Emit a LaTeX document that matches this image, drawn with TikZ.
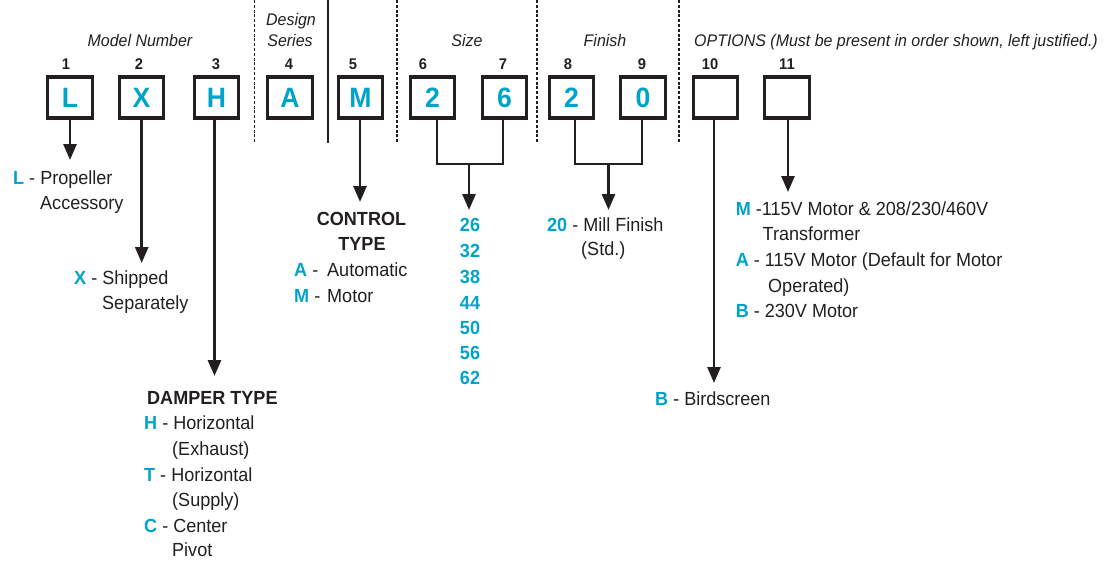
\documentclass[tikz,border=0pt]{standalone}
\usepackage{fontspec}
\setmainfont{Liberation Sans}[FakeStretch=0.95]
\usetikzlibrary{arrows.meta}
\definecolor{cy}{RGB}{0,164,200}
\definecolor{ink}{RGB}{35,31,32}
\begin{document}
\begin{tikzpicture}[x=1pt,y=-1pt,
 cbox/.style={draw=ink, line width=3.4pt, minimum width=44.5pt, minimum height=41pt, inner sep=0pt, text=cy, font=\fontsize{28pt}{30pt}\selectfont\bfseries, text height=20pt, text depth=0pt},
 num/.style={inner sep=0pt, font=\fontsize{15.5pt}{17pt}\selectfont\bfseries, text height=11pt, text depth=0pt, text=ink},
 head/.style={inner sep=0pt, font=\fontsize{16.8pt}{20pt}\selectfont\itshape, text height=12.1pt, text depth=0pt, text=ink},
 txt/.style={inner sep=0pt, font=\fontsize{19pt}{22pt}\selectfont, text height=13.6pt, text depth=0pt, text=ink, anchor=west},
 btxt/.style={txt, font=\fontsize{19pt}{22pt}\selectfont\bfseries},
 ctxt/.style={btxt, anchor=center, text=cy},
 conn/.style={draw=ink, line width=2.8pt},
 arr/.style={conn, -{Triangle[length=16pt,width=13pt]}},
 sepd/.style={draw=ink, line width=1.1pt, dash pattern=on 3pt off 1.8pt},
 seps/.style={draw=ink, line width=1.3pt},
]
\useasboundingbox (0,0) rectangle (1104,562);

% separators
\coordinate (s1t) at (254.5,0); \coordinate (s1b) at (254.5,143);
\coordinate (s2t) at (328,0);   \coordinate (s2b) at (328,143);
\coordinate (s3t) at (397,0);   \coordinate (s3b) at (397,143);
\coordinate (s4t) at (537,0);   \coordinate (s4b) at (537,143);
\coordinate (s5t) at (679,0);   \coordinate (s5b) at (679,143);
\draw[sepd] (s1t) -- (s1b);
\draw[seps] (s2t) -- (s2b);
\draw[sepd] (s3t) -- (s3b);
\draw[sepd] (s4t) -- (s4b);
\draw[sepd] (s5t) -- (s5b);

% headings
\node[head] (hmodel) at (140,40.5) {Model Number};
\node[head] (hdes1) at (291,19) {Design};
\node[head] (hdes2) at (290,40.5) {Series};
\node[head] (hsize) at (467,40.5) {Size};
\node[head] (hfin) at (605,40.5) {Finish};
\node[head, anchor=west] (hopt) at (694,40.5) {OPTIONS (Must be present in order shown, left justified.)};

% position numbers
\node[num] (n1) at (66,63.5) {1};
\node[num] (n2) at (139,63.5) {2};
\node[num] (n3) at (216,63.5) {3};
\node[num] (n4) at (289,63.5) {4};
\node[num] (n5) at (353,63.5) {5};
\node[num] (n6) at (423,63.5) {6};
\node[num] (n7) at (503,63.5) {7};
\node[num] (n8) at (568,63.5) {8};
\node[num] (n9) at (642,63.5) {9};
\node[num] (n10) at (710,63.5) {10};
\node[num] (n11) at (787,63.5) {11};

% boxes
\node[cbox] (b1) at (70,97.3) {L};
\node[cbox] (b2) at (141.5,97.3) {X};
\node[cbox] (b3) at (216.5,97.3) {H};
\node[cbox] (b4) at (290,97.3) {A};
\node[cbox] (b5) at (360.5,97.3) {M};
\node[cbox] (b6) at (432.5,97.3) {2};
\node[cbox] (b7) at (504.5,97.3) {6};
\node[cbox] (b8) at (571.5,97.3) {2};
\node[cbox] (b9) at (643,97.3) {0};
\node[cbox] (b10) at (715.5,97.3) {};
\node[cbox] (b11) at (787,97.3) {};

% arrow tips
\coordinate (t1) at (70,160);
\coordinate (t2) at (141.7,263);
\coordinate (t3) at (214.5,376);
\coordinate (t5) at (360,202);
\coordinate (tS) at (469,210);
\coordinate (tF) at (608.5,210);
\coordinate (t10) at (714,383);
\coordinate (t11) at (788,192);
\coordinate (jS) at (469,164);
\coordinate (jF) at (608.5,164);

\draw[arr] (b1.south -| t1) -- (t1);
\draw[arr] (b2.south -| t2) -- (t2);
\draw[arr] (b3.south -| t3) -- (t3);
\draw[arr] (b5.south -| t5) -- (t5);
\draw[arr] (b10.south -| t10) -- (t10);
\draw[arr] (b11.south -| t11) -- (t11);
\draw[conn] ([xshift=4.5pt]b6.south) |- (jS) -| ([xshift=-1.5pt]b7.south);
\draw[arr] (jS) -- (tS);
\draw[conn] ([xshift=3.5pt]b8.south) |- (jF) -| ([xshift=-1pt]b9.south);
\draw[arr] (jF) -- (tF);

% 1: L
\node[txt] (l1a) at (13,178) {\textcolor{cy}{\bfseries L} - Propeller};
\node[txt] (l1b) at (40,203) {Accessory};
% 2: X
\node[txt] (l2a) at (74,278) {\textcolor{cy}{\bfseries X} - Shipped};
\node[txt] (l2b) at (102,303) {Separately};
% 3: damper type
\node[btxt] (l3h) at (147,398) {DAMPER TYPE};
\node[txt] (l3a) at (144,423) {\textcolor{cy}{\bfseries H} - Horizontal};
\node[txt] (l3b) at (172,449) {(Exhaust)};
\node[txt] (l3c) at (144,475) {\textcolor{cy}{\bfseries T} - Horizontal};
\node[txt] (l3d) at (172,500) {(Supply)};
\node[txt] (l3e) at (144,526) {\textcolor{cy}{\bfseries C} - Center};
\node[txt] (l3f) at (172,550) {Pivot};
% 5: control type
\node[btxt, anchor=center] (l5h1) at (361.5,219) {CONTROL};
\node[btxt, anchor=center] (l5h2) at (362,244) {TYPE};
\node[txt] (l5a) at (294,270) {\textcolor{cy}{\bfseries A} -};
\node[txt] (l5aw) at (327,270) {Automatic};
\node[txt] (l5b) at (294,296) {\textcolor{cy}{\bfseries M} -};
\node[txt] (l5bw) at (327,296) {Motor};
% size
\node[ctxt] (z1) at (470,225) {26};
\node[ctxt] (z2) at (470,251) {32};
\node[ctxt] (z3) at (470,277) {38};
\node[ctxt] (z4) at (470,303) {44};
\node[ctxt] (z5) at (470,328) {50};
\node[ctxt] (z6) at (470,353) {56};
\node[ctxt] (z7) at (470,378) {62};
% finish
\node[txt] (fa) at (547,224.5) {\textcolor{cy}{\bfseries 20} - Mill Finish};
\node[txt] (fb) at (581,249) {(Std.)};
% 10
\node[txt] (o10) at (655,399) {\textcolor{cy}{\bfseries B} - Birdscreen};
% 11
\node[txt] (o11a) at (735.6,209) {\textcolor{cy}{\bfseries M} -115V Motor \& 208/230/460V};
\node[txt] (o11b) at (762.5,234) {Transformer};
\node[txt] (o11c) at (735.6,260) {\textcolor{cy}{\bfseries A} - 115V Motor (Default for Motor};
\node[txt] (o11d) at (768,286) {Operated)};
\node[txt] (o11e) at (735.6,311) {\textcolor{cy}{\bfseries B} - 230V Motor};
\end{tikzpicture}
\end{document}
